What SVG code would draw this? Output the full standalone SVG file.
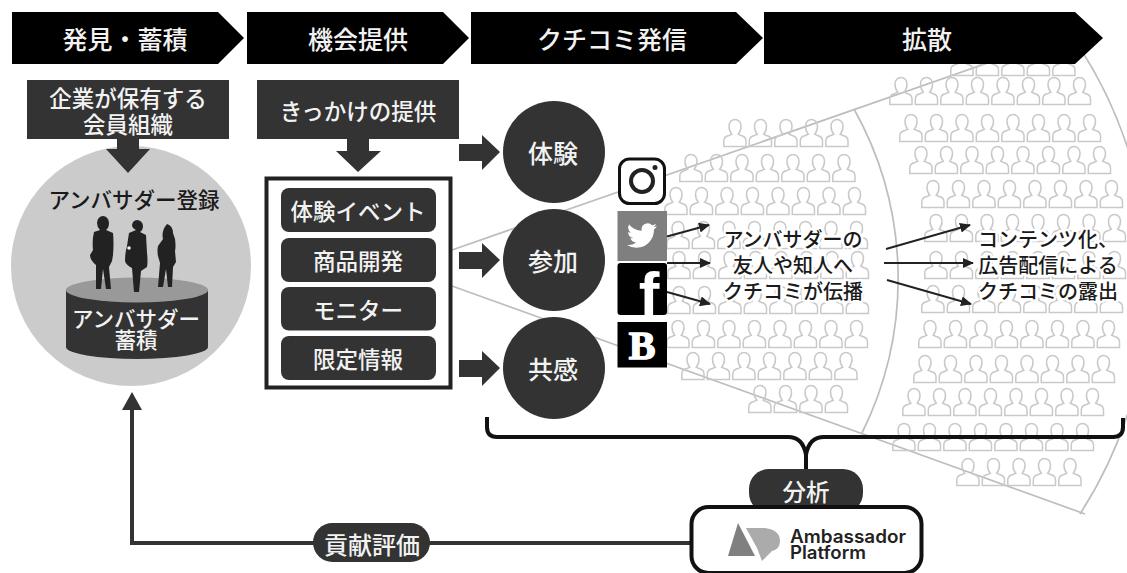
<svg xmlns="http://www.w3.org/2000/svg" width="1127" height="573" viewBox="0 0 1127 573">
<style>
text{font-family:"Noto Sans CJK JP","Liberation Sans",sans-serif;text-anchor:middle;dominant-baseline:central;font-weight:500}
.w{fill:#f2f2f2}
.k{fill:#1a1a1a;stroke:#fff;stroke-width:5;paint-order:stroke;stroke-linejoin:round;font-size:20px}
.d{fill:#333}
.h{fill:#000}
.fan{fill:none;stroke:#bdbdbd;stroke-width:1.7}
.pp{fill:none;stroke:#c9c9c9;stroke-width:1.5}
.ln{fill:none;stroke:#222;stroke-width:2}
.thick{fill:none;stroke:#111;stroke-width:4;stroke-linejoin:round}
</style>
<defs>
<marker id="ah" markerWidth="11" markerHeight="10" refX="10" refY="5" orient="auto" markerUnits="userSpaceOnUse" viewBox="0 0 11 10"><path d="M0,0 L11,5 L0,10 Z" fill="#222"/></marker>
<path id="p" class="pp" d="M.8,27.5 V22 Q.8,17.5 6,16.5 L8.8,15.2 Q6,12 6,7 A6,6.6 0 0 1 18,7 Q18,12 15.2,15.2 L18,16.5 Q23,17.5 23,22 V27.5 Z"/>
<g id="r4"><use href="#p"/><use href="#p" x="25.5"/><use href="#p" x="51"/><use href="#p" x="76.5"/></g>
<g id="r5"><use href="#r4"/><use href="#p" x="102"/></g>
<g id="r7"><use href="#r4"/><use href="#p" x="102"/><use href="#p" x="127.5"/><use href="#p" x="153"/></g>
<g id="r8"><use href="#r7"/><use href="#p" x="178.5"/></g>
</defs>

<g id="connectors">
<path class="fan" d="M452,250 L1085,29"/>
<path class="fan" d="M452,286 L1085,514"/>
<path class="fan" d="M854,109 A348,348 0 0 1 862,433"/>
<path class="fan" d="M1080,48 A429,429 0 0 1 1080,514"/>
</g>

<g id="crowd">
<use href="#r5" x="723" y="119"/>
<use href="#r7" x="679" y="154"/>
<use href="#r8" x="664" y="187"/>
<use href="#r8" x="666" y="221"/>
<use href="#r8" x="667" y="251"/>
<use href="#r8" x="667" y="286"/>
<use href="#r8" x="666" y="320"/>
<use href="#r7" x="681" y="352"/>
<use href="#r4" x="748" y="385"/>
<use href="#r5" x="950" y="48"/>
<use href="#r8" x="889" y="77"/>
<use href="#r8" x="899" y="114"/>
<use href="#r8" x="909" y="146"/>
<use href="#r8" x="921" y="180"/>
<use href="#r8" x="924" y="214"/>
<use href="#r8" x="924" y="251"/>
<use href="#r8" x="921" y="285"/>
<use href="#r8" x="918" y="320"/>
<use href="#r8" x="913" y="355"/>
<use href="#r8" x="902" y="388"/>
<use href="#r8" x="892" y="423"/>
<use href="#r5" x="956" y="458"/>
</g>

<g id="header-1"><polygon class="h" points="12,12 218,12 244,38 218,64 12,64"/><text class="w" x="125" y="38" font-size="25">発見・蓄積</text></g>
<g id="header-2"><polygon class="h" points="247,12 443,12 469,38 443,64 247,64"/><text class="w" x="358" y="38" font-size="25">機会提供</text></g>
<g id="header-3"><polygon class="h" points="471,12 736,12 763,38 736,64 471,64"/><text class="w" x="612" y="38" font-size="25">クチコミ発信</text></g>
<g id="header-4"><polygon class="h" points="764,12 1075,12 1103,38 1075,64 764,64"/><text class="w" x="927" y="38" font-size="25">拡散</text></g>

<g id="registration-circle">
<circle cx="131" cy="266" r="120" fill="#cbcbcb"/>
<text x="134" y="198" font-size="21.5" fill="#1a1a1a">アンバサダー登録</text>
</g>
<g id="member-org">
<rect class="d" x="27" y="80" width="202" height="59"/>
<text class="w" font-size="22.5" y="97"><tspan x="128">企業が保有する</tspan><tspan x="128" dy="26">会員組織</tspan></text>
<polygon class="d" points="117,139 139,139 139,149 150,149 128,173 106,149 117,149"/>
</g>
<g id="cylinder">
<path class="d" d="M66,290 V347 A71,12 0 0 0 208,347 V290 Z"/>
<ellipse cx="137" cy="290" rx="71" ry="12.5" fill="#999"/>
<text class="w" font-size="21.5" y="317"><tspan x="136">アンバサダー</tspan><tspan x="136" dy="21">蓄積</tspan></text>
</g>
<g id="silhouettes" fill="#222">
<path d="M103,216 a6,7 0 0 1 6,7 q0,5 -3,7 l7,3 q1,10 0,22 l-1,6 q-2,4 -3,6 l2,22 h-5 l-3,-20 l-2,20 h-5 l0,-24 q-6,-5 -6,-10 l3,-5 q-1,-10 1,-18 l6,-2 q-3,-3 -3,-7 a6,7 0 0 1 6,-7 z"/>
<path d="M137,220 a6,6 0 0 1 6,6 q0,4 -3,6 l6,3 l1,18 q1,8 0,14 l-6,4 l-2,21 h-5 l-2,-24 q-6,-3 -7,-7 q0,-8 2,-15 l2,-13 l7,-3 q-4,-2 -4,-5 a6,6 0 0 1 5,-5 z"/>
<circle cx="129" cy="248" r="1.8" fill="#eee"/>
<path d="M167,224 q6,2 6,9 l2,6 q1,8 0,12 l1,11 l-3,5 l-1,20 h-4 l-2,-18 l-3,18 h-5 l2,-24 l-2,-7 q-1,-5 0,-10 l5,-7 q-2,-8 4,-15 z"/>
</g>

<g id="trigger">
<rect class="d" x="257" y="80" width="202" height="59"/>
<text class="w" x="358" y="110" font-size="22.5">きっかけの提供</text>
<polygon class="d" points="347,139 369,139 369,151 381,151 358,172 336,151 347,151"/>
</g>
<g id="menu">
<rect x="266.500" y="178.500" width="184" height="209" fill="#fff" stroke="#222" stroke-width="4"/>
<g id="menu-1"><rect class="d" x="281" y="188" width="155" height="44" rx="8"/><text class="w" x="358" y="210" font-size="22.500">体験イベント</text></g>
<g id="menu-2"><rect class="d" x="281" y="238" width="155" height="44" rx="8"/><text class="w" x="358" y="260" font-size="22.500">商品開発</text></g>
<g id="menu-3"><rect class="d" x="281" y="287" width="155" height="43.500" rx="8"/><text class="w" x="358" y="309" font-size="22.500">モニター</text></g>
<g id="menu-4"><rect class="d" x="281" y="336" width="155" height="44" rx="8"/><text class="w" x="358" y="358" font-size="22.500">限定情報</text></g>
</g>

<g id="block-arrows" class="d">
<polygon points="459,144 482,144 482,135 500,152 482,170 482,161 459,161"/>
<polygon points="459,252 482,252 482,243 500,260 482,278 482,269 459,269"/>
<polygon points="459,360 482,360 482,351 500,368 482,386 482,377 459,377"/>
</g>
<g id="taiken"><circle class="d" cx="554" cy="152" r="51"/><text class="w" x="553" y="152" font-size="25">体験</text></g>
<g id="sanka"><circle class="d" cx="554" cy="260" r="51"/><text class="w" x="553" y="260" font-size="25">参加</text></g>
<g id="kyokan"><circle class="d" cx="554" cy="368" r="51"/><text class="w" x="553" y="368" font-size="25">共感</text></g>

<g id="instagram">
<rect x="619.500" y="159" width="45" height="44.500" rx="10" fill="#fff" stroke="#111" stroke-width="3"/>
<circle cx="642" cy="181" r="11" fill="none" stroke="#222" stroke-width="4"/>
<circle cx="655" cy="167.500" r="2.500" fill="#222"/>
</g>
<g id="twitter">
<rect x="617.500" y="211" width="49.500" height="50" fill="#7f7f7f"/>
<path transform="translate(627,220.500) scale(1.25)" fill="#fff" d="M23.95 4.57a10 10 0 0 1-2.82.77 4.96 4.96 0 0 0 2.16-2.72c-.95.55-2 .96-3.12 1.18a4.92 4.92 0 0 0-8.38 4.48A13.98 13.98 0 0 1 1.64 3.16a4.9 4.9 0 0 0 1.52 6.57 4.9 4.9 0 0 1-2.23-.61v.06a4.92 4.92 0 0 0 3.95 4.83 4.9 4.9 0 0 1-2.21.08 4.94 4.94 0 0 0 4.6 3.42A9.87 9.87 0 0 1 0 19.54a13.94 13.94 0 0 0 7.55 2.21c9.05 0 14-7.5 14-13.98 0-.21 0-.42-.02-.63a9.94 9.94 0 0 0 2.46-2.55z"/>
</g>
<g id="facebook">
<rect x="617.500" y="263" width="49.500" height="52" rx="3" fill="#000"/>
<text x="649" y="293" font-size="62" fill="#fff" style="font-family:'Liberation Sans',sans-serif;font-weight:700">f</text>
</g>
<g id="hatena">
<rect x="617.500" y="322" width="49.500" height="45.500" fill="#000"/>
<text x="642" y="345" font-size="40" fill="#fff" stroke="#fff" stroke-width="1.500" style="font-family:'Liberation Serif',serif;font-weight:700">B</text>
</g>

<g id="small-arrows">
<path class="ln" marker-end="url(#ah)" d="M667,236.500 L709,225"/>
<path class="ln" marker-end="url(#ah)" d="M667,263 L710,263"/>
<path class="ln" marker-end="url(#ah)" d="M667,292 L710,304"/>
<path class="ln" marker-end="url(#ah)" d="M886,249 L970,225"/>
<path class="ln" marker-end="url(#ah)" d="M884,263 L973,263"/>
<path class="ln" marker-end="url(#ah)" d="M887,280 L971,304"/>
</g>

<g id="spread-friends">
<text class="k" y="238"><tspan x="793">アンバサダーの</tspan><tspan x="793" dy="26">友人や知人へ</tspan><tspan x="793" dy="26">クチコミが伝播</tspan></text>
</g>
<g id="spread-content">
<text class="k" y="238"><tspan x="1048">コンテンツ化、</tspan><tspan x="1048" dy="26">広告配信による</tspan><tspan x="1048" dy="26">クチコミの露出</tspan></text>
</g>

<g id="bracket">
<path class="thick" d="M487,417 V427 Q487,437 497,437 H788 Q803,437 806,455 Q809,437 824,437 H1113 Q1123,437 1123,427 V418"/>
<path class="thick" d="M806,450 V472"/>
</g>

<g id="feedback">
<path d="M690,543 H132 V405" fill="none" stroke="#333" stroke-width="4"/>
<polygon class="d" points="132,392 142,410 122,410"/>
</g>
<g id="evaluation"><rect class="d" x="313" y="523" width="117" height="39" rx="19.500"/><text class="w" x="372" y="543" font-size="24">貢献評価</text></g>

<g id="analysis"><rect class="d" x="749" y="469" width="114" height="44" rx="20"/><text class="w" x="806" y="491" font-size="23.500">分析</text></g>
<g id="platform">
<rect x="691.500" y="507" width="230" height="66" rx="17" fill="#fff" stroke="#111" stroke-width="4"/>
<polygon points="738,523 728,556 755,556" fill="#808080"/>
<path d="M746,528 L765,528 Q780,530 780,541 Q780,549 772,551 L762,561 L757,548 Z" fill="#ababab"/>
<text x="848" y="536" font-size="18" fill="#222" textLength="116" lengthAdjust="spacingAndGlyphs" style="font-family:Inter,sans-serif;font-weight:600">Ambassador</text>
<text x="828" y="552" font-size="18" fill="#222" textLength="76" lengthAdjust="spacingAndGlyphs" style="font-family:Inter,sans-serif;font-weight:600">Platform</text>
</g>
</svg>
